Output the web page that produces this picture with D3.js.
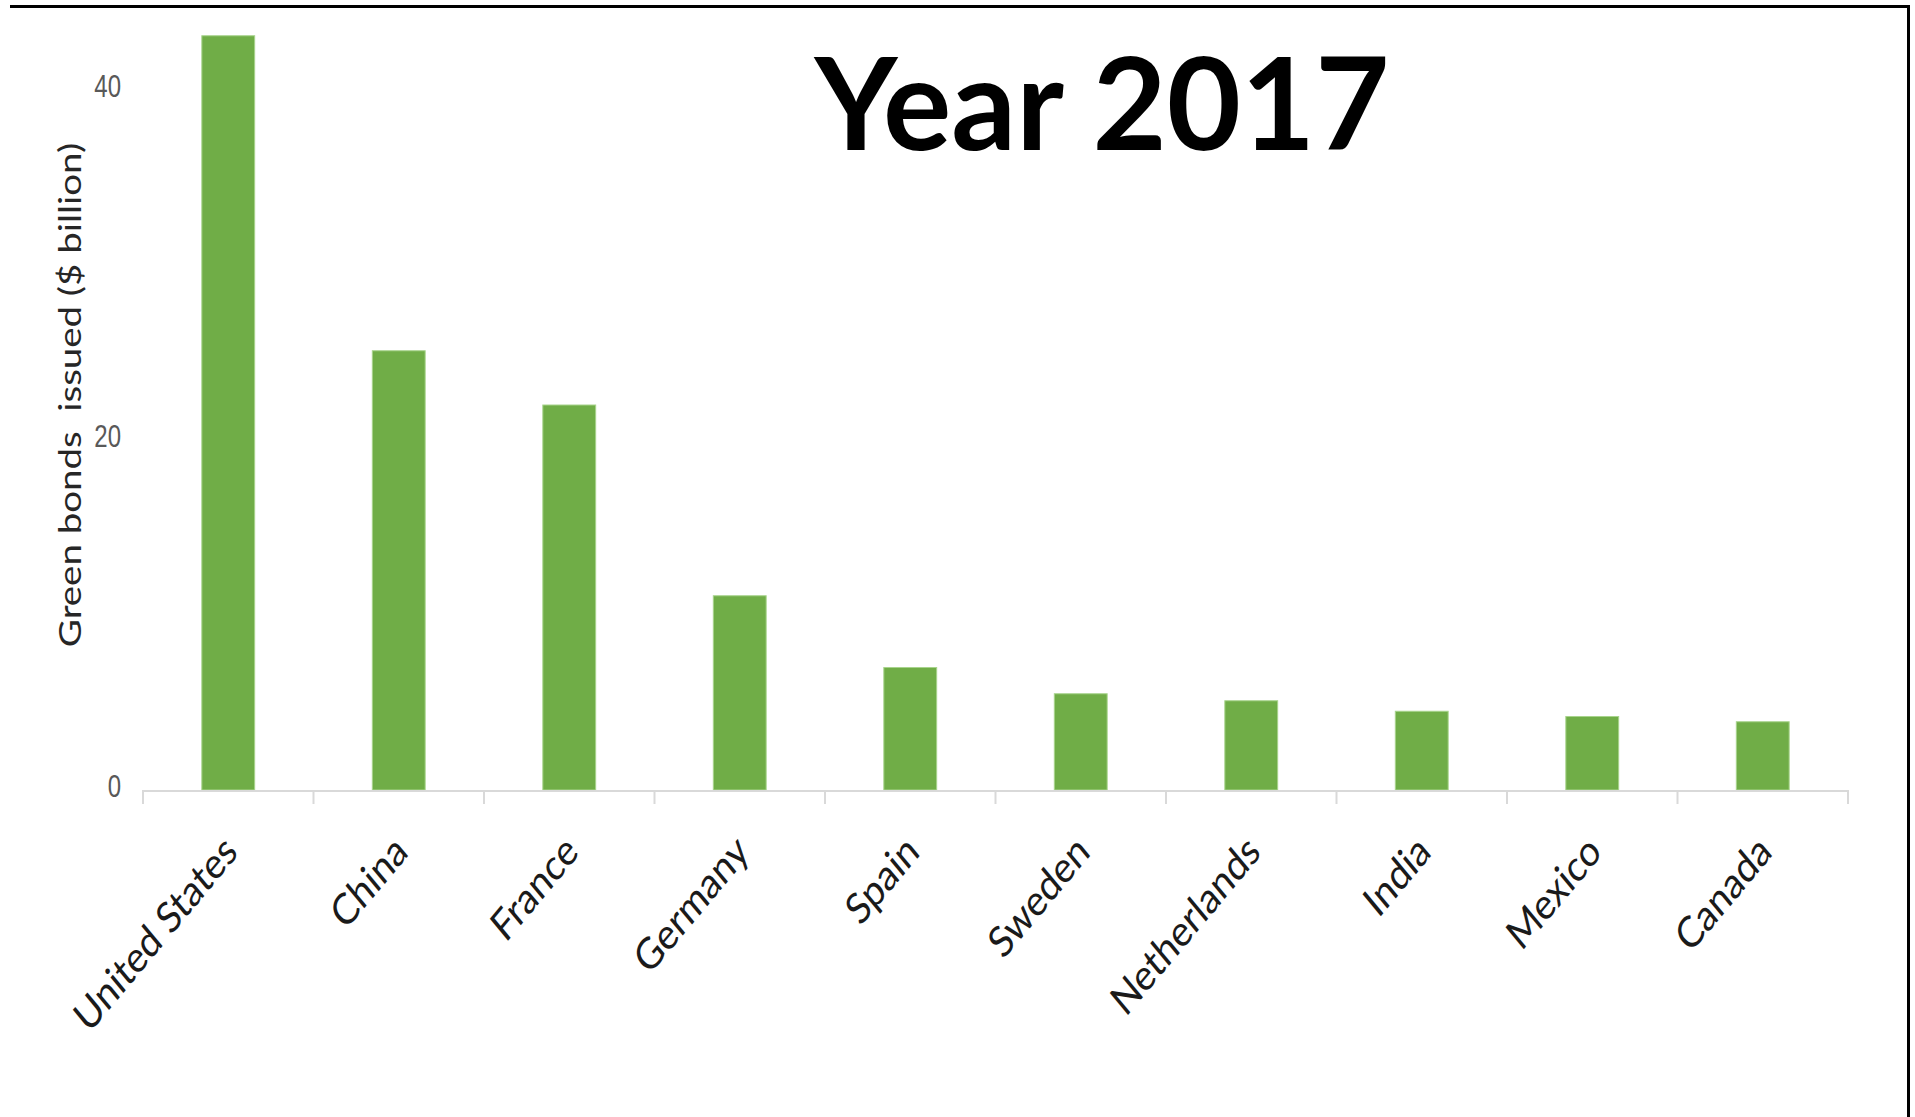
<!DOCTYPE html>
<html>
<head>
<meta charset="utf-8">
<script src="https://cdn.jsdelivr.net/npm/d3@7"></script>
<style>
  html, body { margin: 0; padding: 0; background: #fff; }
  svg { display: block; }
</style>
</head>
<body>
<svg id="chart"></svg>
<script>
const countries = ['United States', 'China', 'France', 'Germany', 'Spain', 'Sweden', 'Netherlands', 'India', 'Mexico', 'Canada'];
const bondValues = [43.1, 25.1, 22.0, 11.1, 7.0, 5.5, 5.1, 4.5, 4.2, 3.9];
const yTicks = [0, 20, 40];
const titleText = 'Year 2017';
const yLabel = 'Green bonds  issued ($ billion)';

const width = 1915;
const height = 1117;
const stretch = 1.2; // the source picture is stretched vertically

const svg = d3.select('#chart')
  .attr('width', width)
  .attr('height', height);

// frame: top and right edges only
svg.append('line')
  .attr('x1', 10).attr('x2', 1910)
  .attr('y1', 6.5).attr('y2', 6.5)
  .attr('stroke', '#000').attr('stroke-width', 3);
svg.append('line')
  .attr('x1', 1908.5).attr('x2', 1908.5)
  .attr('y1', 5).attr('y2', height)
  .attr('stroke', '#000').attr('stroke-width', 3);

const x = d3.scaleBand()
  .domain(countries)
  .range([143, 1848])
  .paddingInner(0.69)
  .paddingOuter(0.345);

const y = d3.scaleLinear()
  .domain([0, 40])
  .range([790, 90]);

// bars
svg.append('g')
  .selectAll('rect')
  .data(countries)
  .enter()
  .append('rect')
  .attr('x', d => x(d))
  .attr('width', x.bandwidth())
  .attr('y', (d, i) => y(bondValues[i]))
  .attr('height', (d, i) => y(0) - y(bondValues[i]))
  .attr('fill', '#70ad47')
  .attr('stroke', '#a8d48c')
  .attr('stroke-width', 1);

// x axis line with ticks between categories
const step = x.step();
const xAxis = svg.append('g').attr('class', 'x-axis');
xAxis.append('line')
  .attr('x1', 143).attr('x2', 1848)
  .attr('y1', y(0) + 1).attr('y2', y(0) + 1)
  .attr('stroke', '#d9d9d9').attr('stroke-width', 2);
xAxis.selectAll('.tick')
  .data(d3.range(countries.length + 1))
  .enter()
  .append('line')
  .attr('class', 'tick')
  .attr('x1', i => 143 + i * step).attr('x2', i => 143 + i * step)
  .attr('y1', y(0)).attr('y2', y(0) + 14)
  .attr('stroke', '#d9d9d9').attr('stroke-width', 2);

// category labels, rotated
xAxis.selectAll('.cat')
  .data(countries)
  .enter()
  .append('text')
  .attr('class', 'cat')
  .attr('transform', d => `translate(${x(d) + x.bandwidth() / 2 + 11},${y(0) + 64}) scale(1,${stretch}) rotate(-45)`)
  .attr('text-anchor', 'end')
  .attr('font-family', 'Lato, "Open Sans", sans-serif')
  .attr('font-size', 36)
  .attr('fill', '#1a1a1a')
  .text(d => d);

// y tick labels
svg.append('g')
  .selectAll('text')
  .data(yTicks)
  .enter()
  .append('text')
  .attr('transform', d => `translate(121,${y(d) + 7}) scale(1,1.3)`)
  .attr('text-anchor', 'end')
  .attr('font-family', '"Liberation Sans Narrow", "Arial Narrow", sans-serif')
  .attr('font-size', 24)
  .attr('fill', '#595959')
  .text(d => d);

// y axis title
svg.append('text')
  .attr('transform', 'translate(81,395) scale(1,1.24) rotate(-90)')
  .attr('text-anchor', 'middle')
  .attr('font-family', 'Lato, "Open Sans", sans-serif')
  .attr('font-size', 31)
  .attr('fill', '#262626')
  .style('white-space', 'pre')
  .text(yLabel);

// title
svg.append('text')
  .attr('x', 1102)
  .attr('y', 150)
  .attr('text-anchor', 'middle')
  .attr('font-family', 'Lato, "Open Sans", sans-serif')
  .attr('font-weight', 'bold')
  .attr('font-size', 128)
  .attr('fill', '#000')
  .text(titleText);
</script>
</body>
</html>
